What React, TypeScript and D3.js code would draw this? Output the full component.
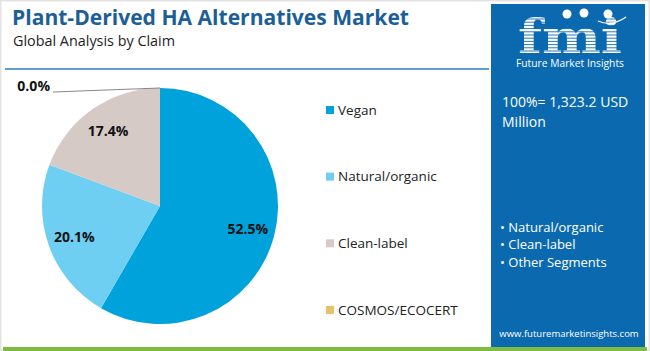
import React from "react";
import * as d3 from "d3";

const categories = ["Vegan", "Natural/organic", "Clean-label", "COSMOS/ECOCERT"];
const values = [52.5, 20.1, 17.4, 0.0];
const colors = ["#00A2DB", "#6ECFF3", "#D6CAC6", "#EBC06A"];
const bullets = ["Natural/organic", "Clean-label", "Other Segments"];
const title = "Plant-Derived HA Alternatives Market";
const subtitle = "Global Analysis by Claim";
const totalText = ["100%= 1,323.2 USD", "Million"];

const W = 650, H = 351;
const FONT = "'Open Sans', 'Noto Sans', sans-serif";

export default function App() {
  const cx = 160, cy = 206, r = 118;
  const data = categories.map((c, i) => ({ c, v: values[i], col: colors[i] }));
  const pie = d3.pie<any>().value((d: any) => d.v).sort(null).startAngle(0).endAngle(2 * Math.PI);
  const arcs = pie(data);
  const arc = d3.arc<any>().innerRadius(0).outerRadius(r);
  const labelArc = d3.arc<any>().innerRadius(91).outerRadius(91);
  const legendY = d3.scalePoint<string>().domain(categories).range([110, 310]);
  const bulletY = d3.scalePoint<string>().domain(bullets).range([227, 262]);
  const stripes = d3.range(19, 55, 3.2);

  return (
    <svg width={W} height={H} style={{ position: "absolute", left: 0, top: 0, fontFamily: FONT }}>
      <rect x={0} y={0} width={W} height={H} fill="#ffffff" />
      <rect x={0.5} y={0.5} width={W - 1} height={H - 1} fill="none" stroke="#e3e3e3" strokeWidth={2} />
      <rect x={3} y={347} width={W - 6} height={4} fill="#7DBB42" />
      <text x={12} y={25} fontSize={22} fontWeight={700} fill="#1C5F98" textLength={397} lengthAdjust="spacingAndGlyphs">{title}</text>
      <text x={13} y={46} fontSize={14} fill="#222" textLength={162} lengthAdjust="spacingAndGlyphs">{subtitle}</text>
      <line x1={5} x2={489} y1={69} y2={69} stroke="#5B9FD4" strokeWidth={2} />

      <g transform={`translate(${cx},${cy})`}>
        {arcs.map((a, i) => (
          <path key={i} d={arc(a) || ""} fill={a.data.col} />
        ))}
        {arcs.map((a, i) => {
          if (a.data.v === 0) return null;
          const [lx, ly] = labelArc.centroid(a);
          return (
            <text key={i} x={lx} y={ly} dy="0.35em" textAnchor="middle" fontSize={14} fontWeight={700} fill="#111">
              {a.data.v.toFixed(1)}%
            </text>
          );
        })}
      </g>
      {arcs.filter((a) => a.data.v === 0).map((a, i) => {
        const px = cx + Math.sin(a.startAngle) * r;
        const py = cy - Math.cos(a.startAngle) * r;
        return (
          <g key={i}>
            <line x1={px} y1={py} x2={53} y2={92} stroke="#888" strokeWidth={1} />
            <text x={50} y={91} textAnchor="end" fontSize={14} fontWeight={700} fill="#111">{a.data.v.toFixed(1)}%</text>
          </g>
        );
      })}

      {categories.map((c, i) => (
        <g key={c} transform={`translate(326,${legendY(c)})`}>
          <rect x={0} y={-4} width={8} height={8} fill={colors[i]} />
          <text x={12} y={0} dy="0.35em" fontSize={13.5} fill="#222">{c}</text>
        </g>
      ))}

      <rect x={491} y={4} width={154} height={343} fill="#0B6AAF" />
      <g>
        <text x={570} y={53} textAnchor="middle" fontSize={46} fontWeight={700} fontFamily="'DejaVu Serif', serif" fill="#ffffff" textLength={104} lengthAdjust="spacingAndGlyphs">fmi</text>
        {stripes.map((s, i) => (
          <line key={i} x1={512} x2={628} y1={s} y2={s} stroke="#0B6AAF" strokeWidth={0.9} />
        ))}
        <circle cx={567} cy={14} r={4.5} fill="#ffffff" />
        <circle cx={584} cy={13} r={4.5} fill="#ffffff" />
        <circle cx={608} cy={14} r={4.5} fill="#ffffff" />
        <path d="M598 21 Q612 27 626 17" fill="none" stroke="#ffffff" strokeWidth={1.2} />
        <text x={570} y={67} textAnchor="middle" fontSize={10} fill="#ffffff" textLength={108} lengthAdjust="spacingAndGlyphs">Future Market Insights</text>
      </g>
      {totalText.map((t, i) => (
        <text key={t} x={502} y={107 + i * 20} fontSize={14} fill="#ffffff">{t}</text>
      ))}
      {bullets.map((b) => (
        <text key={b} x={500} y={bulletY(b)} dy="0.35em" fontSize={13} fill="#ffffff">• {b}</text>
      ))}
      <text x={569} y={337} textAnchor="middle" fontSize={9.5} fill="#ffffff">www.futuremarketinsights.com</text>
    </svg>
  );
}
